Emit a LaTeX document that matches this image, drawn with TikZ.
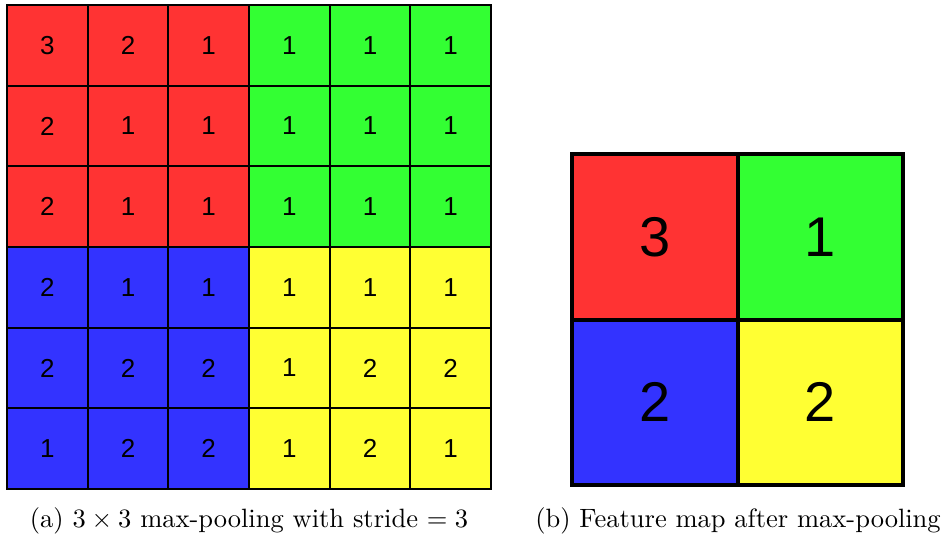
\documentclass[tikz,border=0pt]{standalone}
\usepackage{fontspec}
\usepackage{graphicx}
\newfontfamily\digitfont{Liberation Sans}
\definecolor{poolred}{HTML}{FF3333}
\definecolor{poolgreen}{HTML}{33FF33}
\definecolor{poolblue}{HTML}{3333FF}
\definecolor{poolyellow}{HTML}{FFFF33}
\newcommand{\capscale}[1]{\scalebox{2.65}{\fontsize{10}{12}\selectfont #1}}
\begin{document}
\begin{tikzpicture}[x=1pt,y=-1pt,
  cell/.style={draw=black, line width=2pt, minimum size=80.67pt, inner sep=0pt, outer sep=0pt,
    font=\digitfont\fontsize{26}{30}\selectfont},
  bigcell/.style={draw=black, line width=4pt, minimum size=165.5pt, inner sep=0pt, outer sep=0pt,
    font=\digitfont\fontsize{56}{62}\selectfont},
  caption/.style={inner sep=0pt}]
\useasboundingbox (0,0) rectangle (942,538);
% input map, 6x6, split into four 3x3 pooling windows
\def\cs{80.67}
\foreach \row/\vals in {1/{3,2,1,1,1,1},2/{2,1,1,1,1,1},3/{2,1,1,1,1,1},
                        4/{2,1,1,1,1,1},5/{2,2,2,1,2,2},6/{1,2,2,1,2,1}}{
  \foreach \v [count=\col] in \vals{
    \pgfmathsetmacro{\cx}{7+(\col-0.5)*\cs}
    \pgfmathsetmacro{\cy}{5+(\row-0.5)*\cs}
    \ifnum\row<4
      \ifnum\col<4 \def\fc{poolred}\else\def\fc{poolgreen}\fi
    \else
      \ifnum\col<4 \def\fc{poolblue}\else\def\fc{poolyellow}\fi
    \fi
    \node[cell, fill=\fc] (in-\row-\col) at (\cx,\cy) {\v};
  }
}
% pooled output, 2x2
\node[bigcell, fill=poolred]    (out-1-1) at (654.75,236.75) {3};
\node[bigcell, fill=poolgreen]  (out-1-2) at (820.25,236.75) {1};
\node[bigcell, fill=poolblue]   (out-2-1) at (654.75,402.25) {2};
\node[bigcell, fill=poolyellow] (out-2-2) at (820.25,402.25) {2};
% captions
\node[caption] (capa) at (249,521) {\capscale{(a) $3\times3$ max-pooling with stride $=3$}};
\node[caption] (capb) at (738,521) {\capscale{(b) Feature map after max-pooling}};
\end{tikzpicture}
\end{document}
